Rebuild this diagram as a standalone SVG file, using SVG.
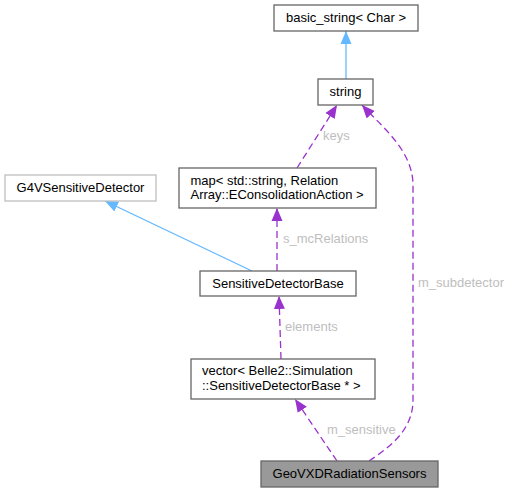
<svg xmlns="http://www.w3.org/2000/svg" width="510" height="492" viewBox="0 0 510 492">
<style>
text{font-family:"Liberation Sans",Arial,Helvetica,sans-serif;font-size:13px;fill:#000}
.node rect{fill:#fff;stroke:#666;stroke-width:1.3}
.node.ext rect{stroke:#bfbfbf}
.node.cur rect{fill:#999;stroke:#666}
.c{text-anchor:middle}
.lbl{fill:#bebebe}
.inh{fill:none;stroke:#63b8ff;stroke-width:1.3}
.use{fill:none;stroke:#9a32cd;stroke-width:1.3;stroke-dasharray:7,4}
</style>
<defs>
<marker id="ab" markerUnits="userSpaceOnUse" markerWidth="14" markerHeight="12" refX="13" refY="5.5" orient="auto" viewBox="0 0 14 11">
<path d="M0,0 L13,5.5 L0,11 Z" fill="#63b8ff"/>
</marker>
<marker id="ap" markerUnits="userSpaceOnUse" markerWidth="14" markerHeight="12" refX="13" refY="5.5" orient="auto" viewBox="0 0 14 11">
<path d="M0,0 L13,5.5 L0,11 Z" fill="#9a32cd"/>
</marker>
</defs>
<g id="edges">
<path class="inh" d="M346,79 L346,31" marker-end="url(#ab)"/>
<path class="inh" d="M252,271 L105,201" marker-end="url(#ab)"/>
<path class="use" d="M297,168 L337,105" marker-end="url(#ap)"/>
<text class="lbl" x="323" y="140">keys</text>
<path class="use" d="M369,461 C390,447 413,430 413,400 L413,185 C413,150 380,125 362,105" marker-end="url(#ap)"/>
<text class="lbl" x="418" y="286.5">m_subdetector</text>
<path class="use" d="M277,271 L277,208" marker-end="url(#ap)"/>
<text class="lbl" x="283" y="243">s_mcRelations</text>
<path class="use" d="M281,359 L279,296" marker-end="url(#ap)"/>
<text class="lbl" x="285" y="331">elements</text>
<path class="use" d="M337,461 L295,399" marker-end="url(#ap)"/>
<text class="lbl" x="327" y="433.5">m_sensitive</text>
</g>
<g id="basic_string" class="node"><rect x="274" y="5" width="144" height="26"/><text class="c" x="346" y="22">basic_string&lt; Char &gt;</text></g>
<g id="string" class="node"><rect x="318" y="79" width="55" height="26"/><text class="c" x="345.5" y="96">string</text></g>
<g id="map" class="node"><rect x="179" y="168" width="197" height="40"/><text x="190.5" y="184.5">map&lt; std::string, Relation</text><text x="190.5" y="199">Array::EConsolidationAction &gt;</text></g>
<g id="G4VSensitiveDetector" class="node ext"><rect x="5" y="175" width="151" height="26"/><text class="c" x="80.5" y="192">G4VSensitiveDetector</text></g>
<g id="SensitiveDetectorBase" class="node"><rect x="200" y="271" width="156" height="25"/><text class="c" x="278" y="288">SensitiveDetectorBase</text></g>
<g id="vector" class="node"><rect x="191" y="359" width="184" height="40"/><text x="202" y="375">vector&lt; Belle2::Simulation</text><text x="202" y="389.5">::SensitiveDetectorBase * &gt;</text></g>
<g id="GeoVXDRadiationSensors" class="node cur"><rect x="261" y="461" width="177" height="26"/><text class="c" x="349.5" y="478">GeoVXDRadiationSensors</text></g>
</svg>
